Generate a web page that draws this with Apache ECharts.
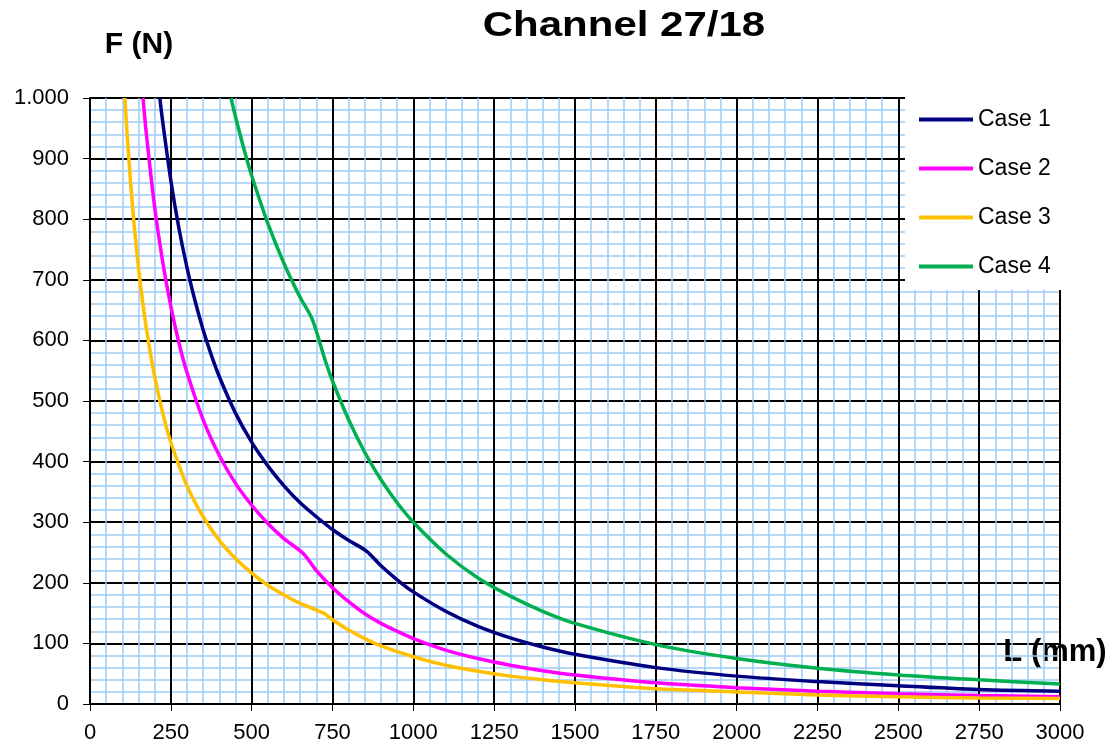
<!DOCTYPE html>
<html>
<head>
<meta charset="utf-8">
<script src="https://cdn.jsdelivr.net/npm/echarts@6/dist/echarts.min.js"></script>
<style>
html,body{margin:0;padding:0;background:#fff;}
#chart{width:1117px;height:749px;}
</style>
</head>
<body>
<div id="chart"></div>
<script>
// ---- Data ----
const seriesNames = ['Case 1', 'Case 2', 'Case 3', 'Case 4'];

const case1L = [216, 225, 250, 275, 300, 325, 350, 375, 400, 450, 500, 550, 600, 650, 700, 750, 800, 856, 900, 950, 1000, 1100, 1200, 1300, 1400, 1500, 1750, 2000, 2250, 2500, 2750, 3000];
const case1F = [1000, 960, 864, 785, 720, 665, 617, 576, 540, 480, 432, 393, 360, 332, 309, 288, 270, 252, 228, 205, 185, 153, 128, 109, 94, 82, 60, 46, 37, 30, 24, 21];

const case2L = [164, 175, 200, 225, 250, 275, 300, 350, 400, 450, 500, 550, 600, 660, 700, 750, 800, 850, 900, 950, 1000, 1100, 1200, 1300, 1400, 1500, 1750, 2000, 2250, 2500, 2750, 3000];
const case2F = [1000, 937, 820, 729, 656, 596, 547, 469, 410, 364, 328, 298, 273, 248, 220, 192, 169, 149, 133, 120, 108, 89, 75, 64, 55, 48, 35, 27, 21, 17, 14, 12];

const case3L = [108, 115, 125, 137, 150, 162, 175, 200, 225, 250, 300, 350, 400, 450, 500, 550, 600, 650, 722, 750, 800, 850, 900, 1000, 1100, 1200, 1300, 1400, 1500, 1750, 2000, 2250, 2500, 2750, 3000];
const case3F = [1000, 939, 864, 788, 720, 667, 617, 540, 480, 432, 360, 309, 270, 240, 216, 196, 180, 166, 150, 139, 122, 108, 96, 78, 64, 54, 46, 40, 35, 25, 20, 15, 12, 10, 9];

const case4L = [436, 450, 475, 500, 550, 600, 650, 688, 725, 750, 800, 850, 900, 950, 1000, 1100, 1200, 1300, 1400, 1500, 1750, 2000, 2250, 2500, 2750, 3000];
const case4F = [1000, 969, 918, 872, 793, 727, 671, 634, 571, 533, 469, 415, 370, 332, 300, 248, 208, 178, 153, 133, 98, 75, 59, 48, 40, 33];

const xTickLabels = ['0', '250', '500', '750', '1000', '1250', '1500', '1750', '2000', '2250', '2500', '2750', '3000'];
const yTickLabels = ['0', '100', '200', '300', '400', '500', '600', '700', '800', '900', '1.000'];
const colors = ['#000080', '#FF00FF', '#FFC000', '#00B050'];

const pairs = (xs, ys) => xs.map((x, i) => [x, ys[i]]);
const allL = [case1L, case2L, case3L, case4L];
const allF = [case1F, case2F, case3F, case4F];

const FONT = "'Liberation Sans', Arial, sans-serif";

const chart = echarts.init(document.getElementById('chart'), null, {renderer: 'canvas'});

chart.setOption({
  animation: false,
  backgroundColor: '#ffffff',
  textStyle: {fontFamily: FONT},
  grid: {left: 90, right: 57, top: 98, bottom: 45, containLabel: false},
  xAxis: {
    type: 'value', min: 0, max: 3000, interval: 250,
    axisLine: {show: true, onZero: false, lineStyle: {color: '#000', width: 2}},
    axisTick: {show: true, length: 7, lineStyle: {color: '#000', width: 1}},
    axisLabel: {color: '#000', fontSize: 22, fontFamily: FONT, margin: 18, showMaxLabel: true, showMinLabel: true,
      formatter: v => xTickLabels[Math.round(v / 250)]},
    splitLine: {show: true, lineStyle: {color: '#000', width: 2}},
    minorTick: {show: false, splitNumber: 5},
    minorSplitLine: {show: true, lineStyle: {color: '#9DCBF7', width: 1.5}}
  },
  yAxis: {
    type: 'value', min: 0, max: 1000, interval: 100,
    axisLine: {show: true, onZero: false, lineStyle: {color: '#000', width: 2}},
    axisTick: {show: true, length: 7, lineStyle: {color: '#000', width: 1}},
    axisLabel: {color: '#000', fontSize: 22, fontFamily: FONT, margin: 21,
      formatter: v => yTickLabels[Math.round(v / 100)]},
    splitLine: {show: true, lineStyle: {color: '#000', width: 2}},
    minorTick: {show: false, splitNumber: 5},
    minorSplitLine: {show: true, lineStyle: {color: '#9DCBF7', width: 1.5}}
  },
  legend: {
    orient: 'vertical',
    left: 905, top: 90,
    padding: [18, 65, 12, 14],
    backgroundColor: '#ffffff',
    icon: 'rect',
    itemWidth: 54, itemHeight: 4, itemGap: 26,
    textStyle: {color: '#000', fontSize: 23, lineHeight: 23, fontFamily: FONT},
    data: seriesNames
  },
  graphic: [
    {type: 'text', x: 624, y: 26, scaleX: 1.2, originX: 0,
      style: {text: 'Channel 27/18', font: "bold 35px 'Liberation Sans', Arial", fill: '#000', textAlign: 'center', textVerticalAlign: 'middle'}},
    {type: 'text', x: 139, y: 45,
      style: {text: 'F (N)', font: "bold 30px 'Liberation Sans', Arial", fill: '#000', textAlign: 'center', textVerticalAlign: 'middle'}},
    {type: 'text', x: 1055, y: 652,
      style: {text: 'L (mm)', font: "bold 31px 'Liberation Sans', Arial", fill: '#000', textAlign: 'center', textVerticalAlign: 'middle'}}
  ],
  series: seriesNames.map((name, i) => ({
    name: name,
    type: 'line',
    data: pairs(allL[i], allF[i]),
    symbol: 'none',
    smooth: 0.3,
    clip: true,
    lineStyle: {color: colors[i], width: 3.5},
    itemStyle: {color: colors[i]}
  }))
});
</script>
</body>
</html>
